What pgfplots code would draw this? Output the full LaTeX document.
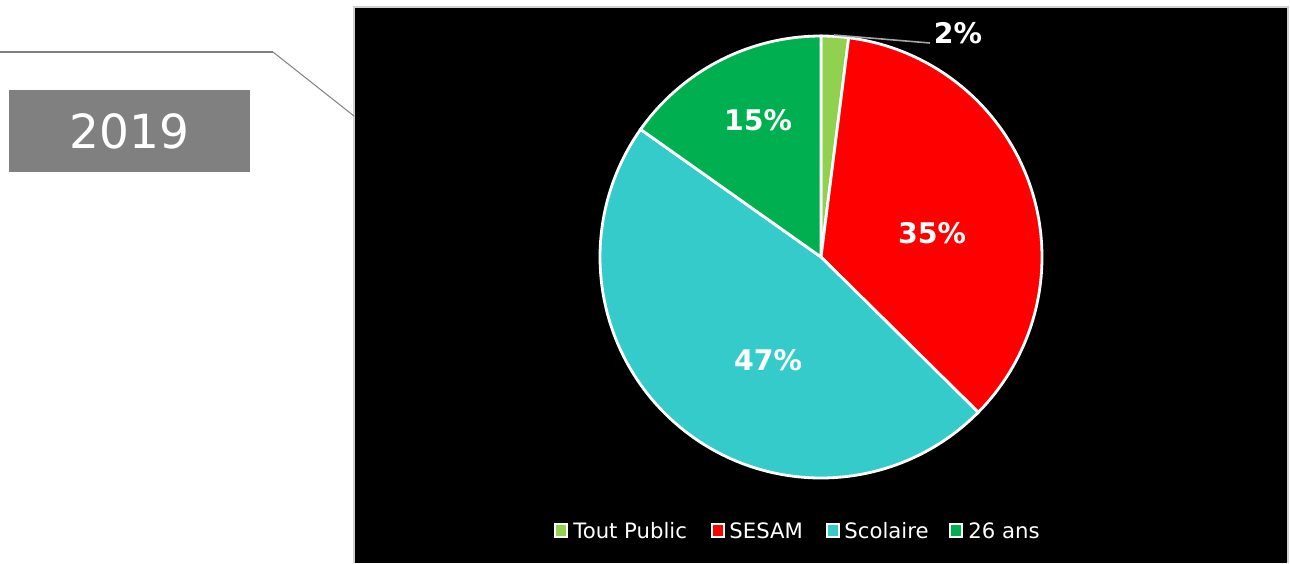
\documentclass[border=0pt]{standalone}
\usepackage{pgfplots}
\pgfplotsset{compat=1.18}
\usepackage{fontspec}
\setmainfont{DejaVu Sans}
\definecolor{cTP}{HTML}{92D050}
\definecolor{cSE}{HTML}{FF0000}
\definecolor{cSC}{HTML}{36CBCB}
\definecolor{cAN}{HTML}{00B050}
\definecolor{boxgray}{HTML}{808080}
\definecolor{framegray}{HTML}{D0D0D0}
\begin{document}
\begin{tikzpicture}
% values (percent): Tout Public, SESAM, Scolaire, 26 ans
\def\vA{2.0}\def\vB{35.4}\def\vC{47.4}\def\vD{15.2}
\pgfmathsetmacro\aA{90}
\pgfmathsetmacro\aB{\aA-3.6*\vA}
\pgfmathsetmacro\aC{\aB-3.6*\vB}
\pgfmathsetmacro\aD{\aC-3.6*\vC}
\pgfmathsetmacro\aE{\aD-3.6*\vD}
\begin{axis}[scale only axis, width=645pt, height=281.5pt,
  xmin=0, xmax=1290, ymin=0, ymax=563, y dir=reverse,
  hide axis, clip=false]
% chart area
\fill[black] (354,8) rectangle (1287,563);
\draw[framegray, line width=1pt] (353.5,563) -- (353.5,7) -- (1287.5,7) -- (1287.5,563);
% pie slices
\addplot[fill=cTP, draw=white, line width=1.4pt, domain=\aB:\aA, samples=20, variable=\t]
  ({821+221*cos(\t)},{257-221*sin(\t)}) -- (axis cs:821,257) -- cycle;
\addplot[fill=cSE, draw=white, line width=1.4pt, domain=\aC:\aB, samples=120, variable=\t]
  ({821+221*cos(\t)},{257-221*sin(\t)}) -- (axis cs:821,257) -- cycle;
\addplot[fill=cSC, draw=white, line width=1.4pt, domain=\aD:\aC, samples=160, variable=\t]
  ({821+221*cos(\t)},{257-221*sin(\t)}) -- (axis cs:821,257) -- cycle;
\addplot[fill=cAN, draw=white, line width=1.4pt, domain=\aE:\aD, samples=60, variable=\t]
  ({821+221*cos(\t)},{257-221*sin(\t)}) -- (axis cs:821,257) -- cycle;
% data labels
\draw[gray!70, line width=0.8pt] (834,35) -- (930,43);
\begin{scope}[every node/.style={text=white, font=\fontsize{14.2}{17}\selectfont\bfseries, inner sep=0pt}]
\node at (958,33) {2\%};
\node at (932,233) {35\%};
\node at (768,360) {47\%};
\node at (758,120) {15\%};
\end{scope}
% legend
\begin{scope}[every node/.style={text=white, font=\fontsize{10.6}{12}\selectfont, inner sep=0pt, anchor=base west}]
\filldraw[fill=cTP, draw=white, line width=1pt] (555,524) rectangle (567,537);
\node at (573,538) {Tout Public};
\filldraw[fill=cSE, draw=white, line width=1pt] (712,524) rectangle (724,537);
\node at (729,538) {SESAM};
\filldraw[fill=cSC, draw=white, line width=1pt] (827,524) rectangle (839,537);
\node at (844,538) {Scolaire};
\filldraw[fill=cAN, draw=white, line width=1pt] (950,524) rectangle (962,537);
\node at (968,538) {26 ans};
\end{scope}
% year box and connector
\draw[boxgray, line width=1pt] (0,52) -- (273,52);
\draw[boxgray, line width=0.5pt] (273,52) -- (354,116);
\fill[boxgray] (9,90) rectangle (250,172);
\node[text=white, font=\fontsize{23.5}{28}\selectfont, inner sep=0pt] at (129.5,131) {2019};
\end{axis}
\pgfresetboundingbox
\path (current axis.south west) rectangle (current axis.north east);
\end{tikzpicture}
\end{document}
